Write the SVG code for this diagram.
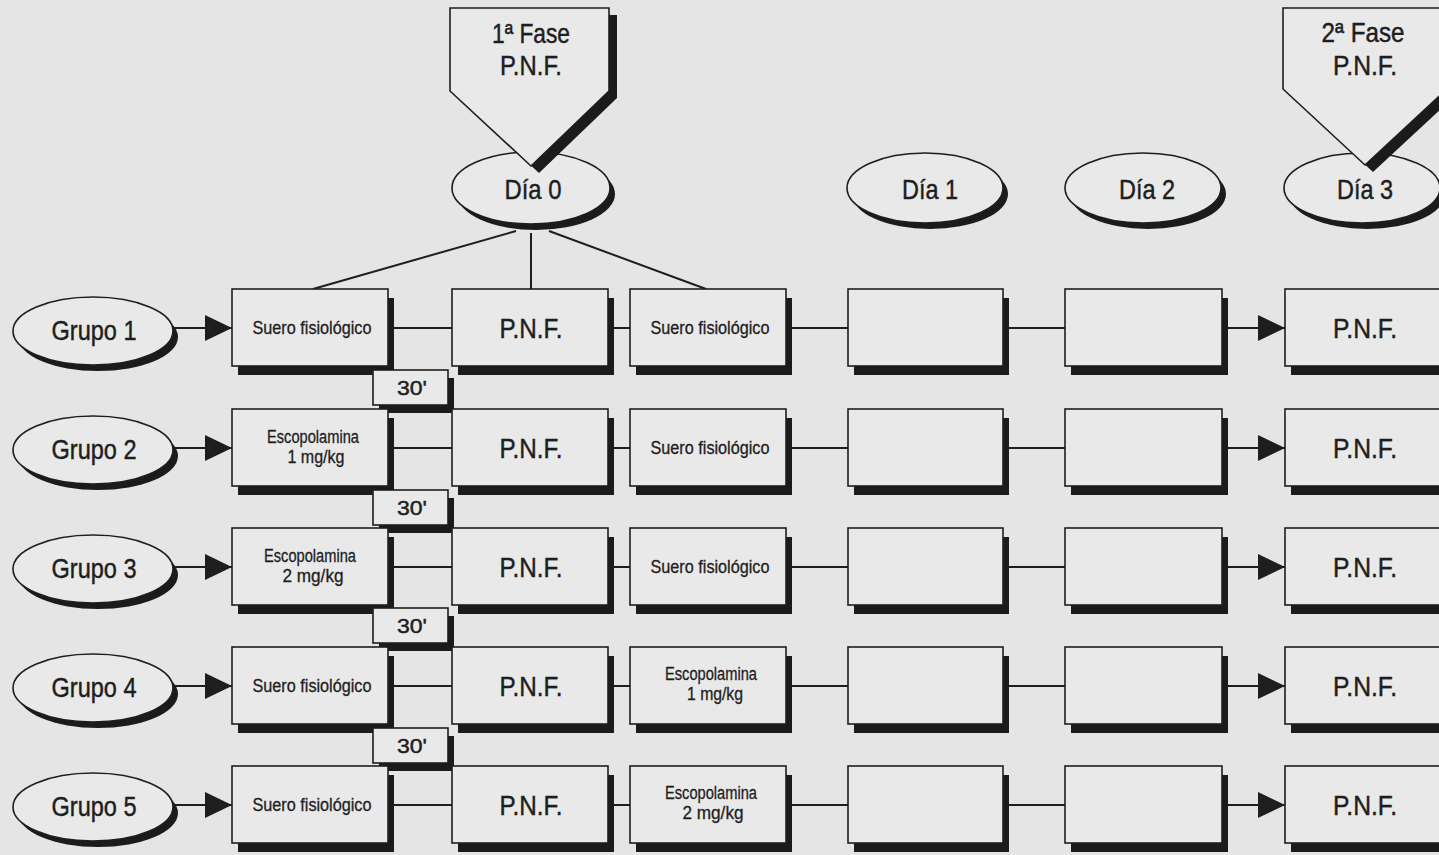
<svg xmlns="http://www.w3.org/2000/svg" width="1439" height="855" viewBox="0 0 1439 855">
  <style>
    .bx { fill: #e9e9e9; stroke: #1e1e1e; stroke-width: 1.6; }
    .sh { fill: #1b1b1b; stroke: none; }
    .ln { stroke: #1e1e1e; stroke-width: 2; fill: none; }
    text { font-family: "Liberation Sans Narrow", "Liberation Sans", Arial, sans-serif; fill: #1e1e1e; stroke: #1e1e1e; stroke-width: 0.45; text-anchor: middle; }
    .big { font-size: 28px; }
    .mid { font-size: 21px; }
    .sm { font-size: 18px; stroke-width: 0.3; }
  </style>
  <defs>
    <marker id="arr" markerUnits="userSpaceOnUse" markerWidth="27" markerHeight="26" refX="27" refY="13" orient="auto">
      <path d="M0,0 L27,13 L0,26 Z" fill="#1e1e1e"/>
    </marker>
  </defs>

  <!-- paper -->
  <rect x="0" y="0" width="1439" height="855" fill="#e5e5e5"/>

  <!-- connectors -->
  <g id="connectors">
    <!-- Día 0 fan-out to the first three boxes of group 1 -->
    <line class="ln" x1="516" y1="231" x2="313" y2="289"/>
    <line class="ln" x1="531" y1="233" x2="531" y2="289"/>
    <line class="ln" x1="549" y1="231" x2="706" y2="289"/>

    <!-- row 1 -->
    <line class="ln" x1="173" y1="328" x2="232" y2="328" marker-end="url(#arr)"/>
    <line class="ln" x1="394" y1="328" x2="452" y2="328"/>
    <line class="ln" x1="614" y1="328" x2="630" y2="328"/>
    <line class="ln" x1="792" y1="328" x2="848" y2="328"/>
    <line class="ln" x1="1009" y1="328" x2="1065" y2="328"/>
    <line class="ln" x1="1228" y1="328" x2="1285" y2="328" marker-end="url(#arr)"/>
    <!-- row 2 -->
    <line class="ln" x1="173" y1="448" x2="232" y2="448" marker-end="url(#arr)"/>
    <line class="ln" x1="394" y1="448" x2="452" y2="448"/>
    <line class="ln" x1="614" y1="448" x2="630" y2="448"/>
    <line class="ln" x1="792" y1="448" x2="848" y2="448"/>
    <line class="ln" x1="1009" y1="448" x2="1065" y2="448"/>
    <line class="ln" x1="1228" y1="448" x2="1285" y2="448" marker-end="url(#arr)"/>
    <!-- row 3 -->
    <line class="ln" x1="173" y1="567" x2="232" y2="567" marker-end="url(#arr)"/>
    <line class="ln" x1="394" y1="567" x2="452" y2="567"/>
    <line class="ln" x1="614" y1="567" x2="630" y2="567"/>
    <line class="ln" x1="792" y1="567" x2="848" y2="567"/>
    <line class="ln" x1="1009" y1="567" x2="1065" y2="567"/>
    <line class="ln" x1="1228" y1="567" x2="1285" y2="567" marker-end="url(#arr)"/>
    <!-- row 4 -->
    <line class="ln" x1="173" y1="686" x2="232" y2="686" marker-end="url(#arr)"/>
    <line class="ln" x1="394" y1="686" x2="452" y2="686"/>
    <line class="ln" x1="614" y1="686" x2="630" y2="686"/>
    <line class="ln" x1="792" y1="686" x2="848" y2="686"/>
    <line class="ln" x1="1009" y1="686" x2="1065" y2="686"/>
    <line class="ln" x1="1228" y1="686" x2="1285" y2="686" marker-end="url(#arr)"/>
    <!-- row 5 -->
    <line class="ln" x1="173" y1="805" x2="232" y2="805" marker-end="url(#arr)"/>
    <line class="ln" x1="394" y1="805" x2="452" y2="805"/>
    <line class="ln" x1="614" y1="805" x2="630" y2="805"/>
    <line class="ln" x1="792" y1="805" x2="848" y2="805"/>
    <line class="ln" x1="1009" y1="805" x2="1065" y2="805"/>
    <line class="ln" x1="1228" y1="805" x2="1285" y2="805" marker-end="url(#arr)"/>
  </g>

  <!-- day ellipses -->
  <g id="dia0">
    <ellipse class="sh" cx="536" cy="194" rx="79" ry="36"/>
    <ellipse class="bx" cx="531" cy="188" rx="79" ry="36"/>
    <text class="big" x="533" y="199" textLength="57" lengthAdjust="spacingAndGlyphs">Día 0</text>
  </g>
  <g id="dia1">
    <ellipse class="sh" cx="930" cy="194" rx="78" ry="35"/>
    <ellipse class="bx" cx="925" cy="188" rx="78" ry="35"/>
    <text class="big" x="930" y="199" textLength="56" lengthAdjust="spacingAndGlyphs">Día 1</text>
  </g>
  <g id="dia2">
    <ellipse class="sh" cx="1148" cy="194" rx="78" ry="35"/>
    <ellipse class="bx" cx="1143" cy="188" rx="78" ry="35"/>
    <text class="big" x="1147" y="199" textLength="56" lengthAdjust="spacingAndGlyphs">Día 2</text>
  </g>
  <g id="dia3">
    <ellipse class="sh" cx="1367" cy="194" rx="78" ry="35"/>
    <ellipse class="bx" cx="1362" cy="188" rx="78" ry="35"/>
    <text class="big" x="1365" y="199" textLength="56" lengthAdjust="spacingAndGlyphs">Día 3</text>
  </g>

  <!-- phase markers -->
  <g id="fase1">
    <polygon class="sh" points="458,15 617,15 617,98 539,173 458,98"/>
    <polygon class="bx" points="450,8 609,8 609,91 531,166 450,91"/>
    <text class="big" x="531" y="43" textLength="78" lengthAdjust="spacingAndGlyphs">1ª Fase</text>
    <text class="big" x="531" y="75" textLength="62" lengthAdjust="spacingAndGlyphs">P.N.F.</text>
  </g>
  <g id="fase2">
    <polygon class="sh" points="1291,15 1455,15 1455,96 1373,172 1291,96"/>
    <polygon class="bx" points="1283,8 1447,8 1447,89 1365,165 1283,89"/>
    <text class="big" x="1363" y="42" textLength="83" lengthAdjust="spacingAndGlyphs">2ª Fase</text>
    <text class="big" x="1365" y="75" textLength="64" lengthAdjust="spacingAndGlyphs">P.N.F.</text>
  </g>

  <!-- group 1 -->
  <g id="grupo1">
    <ellipse class="sh" cx="98" cy="337" rx="80" ry="34"/>
    <ellipse class="bx" cx="93" cy="331" rx="80" ry="34"/>
    <text class="big" x="94" y="340" textLength="85" lengthAdjust="spacingAndGlyphs">Grupo 1</text>
  </g>
  <g id="g1-pre">
    <rect class="sh" x="238" y="298" width="156" height="77"/>
    <rect class="bx" x="232" y="289" width="156" height="77"/>
    <text class="sm" x="312" y="334" textLength="119" lengthAdjust="spacingAndGlyphs">Suero fisiológico</text>
  </g>
  <g id="g1-pnf">
    <rect class="sh" x="458" y="298" width="156" height="77"/>
    <rect class="bx" x="452" y="289" width="156" height="77"/>
    <text class="big" x="531" y="338" textLength="63" lengthAdjust="spacingAndGlyphs">P.N.F.</text>
  </g>
  <g id="g1-post">
    <rect class="sh" x="636" y="298" width="156" height="77"/>
    <rect class="bx" x="630" y="289" width="156" height="77"/>
    <text class="sm" x="710" y="334" textLength="119" lengthAdjust="spacingAndGlyphs">Suero fisiológico</text>
  </g>
  <g id="g1-d1">
    <rect class="sh" x="854" y="298" width="155" height="77"/>
    <rect class="bx" x="848" y="289" width="155" height="77"/>
  </g>
  <g id="g1-d2">
    <rect class="sh" x="1071" y="298" width="157" height="77"/>
    <rect class="bx" x="1065" y="289" width="157" height="77"/>
  </g>
  <g id="g1-d3">
    <rect class="sh" x="1291" y="298" width="156" height="77"/>
    <rect class="bx" x="1285" y="289" width="156" height="77"/>
    <text class="big" x="1365" y="338" textLength="64" lengthAdjust="spacingAndGlyphs">P.N.F.</text>
  </g>
  <g id="wait1">
    <rect class="sh" x="379" y="378" width="75" height="35"/>
    <rect class="bx" x="373" y="370" width="75" height="35"/>
    <text class="mid" x="412" y="395" textLength="30" lengthAdjust="spacingAndGlyphs">30'</text>
  </g>

  <!-- group 2 -->
  <g id="grupo2">
    <ellipse class="sh" cx="98" cy="456" rx="80" ry="34"/>
    <ellipse class="bx" cx="93" cy="450" rx="80" ry="34"/>
    <text class="big" x="94" y="459" textLength="85" lengthAdjust="spacingAndGlyphs">Grupo 2</text>
  </g>
  <g id="g2-pre">
    <rect class="sh" x="238" y="418" width="156" height="77"/>
    <rect class="bx" x="232" y="409" width="156" height="77"/>
    <text class="sm" x="313" y="443" textLength="92" lengthAdjust="spacingAndGlyphs">Escopolamina</text>
    <text class="sm" x="316" y="463" textLength="57" lengthAdjust="spacingAndGlyphs">1 mg/kg</text>
  </g>
  <g id="g2-pnf">
    <rect class="sh" x="458" y="418" width="156" height="77"/>
    <rect class="bx" x="452" y="409" width="156" height="77"/>
    <text class="big" x="531" y="458" textLength="63" lengthAdjust="spacingAndGlyphs">P.N.F.</text>
  </g>
  <g id="g2-post">
    <rect class="sh" x="636" y="418" width="156" height="77"/>
    <rect class="bx" x="630" y="409" width="156" height="77"/>
    <text class="sm" x="710" y="454" textLength="119" lengthAdjust="spacingAndGlyphs">Suero fisiológico</text>
  </g>
  <g id="g2-d1">
    <rect class="sh" x="854" y="418" width="155" height="77"/>
    <rect class="bx" x="848" y="409" width="155" height="77"/>
  </g>
  <g id="g2-d2">
    <rect class="sh" x="1071" y="418" width="157" height="77"/>
    <rect class="bx" x="1065" y="409" width="157" height="77"/>
  </g>
  <g id="g2-d3">
    <rect class="sh" x="1291" y="418" width="156" height="77"/>
    <rect class="bx" x="1285" y="409" width="156" height="77"/>
    <text class="big" x="1365" y="458" textLength="64" lengthAdjust="spacingAndGlyphs">P.N.F.</text>
  </g>
  <g id="wait2">
    <rect class="sh" x="379" y="498" width="75" height="35"/>
    <rect class="bx" x="373" y="490" width="75" height="35"/>
    <text class="mid" x="412" y="515" textLength="30" lengthAdjust="spacingAndGlyphs">30'</text>
  </g>

  <!-- group 3 -->
  <g id="grupo3">
    <ellipse class="sh" cx="98" cy="575" rx="80" ry="34"/>
    <ellipse class="bx" cx="93" cy="569" rx="80" ry="34"/>
    <text class="big" x="94" y="578" textLength="85" lengthAdjust="spacingAndGlyphs">Grupo 3</text>
  </g>
  <g id="g3-pre">
    <rect class="sh" x="238" y="537" width="156" height="77"/>
    <rect class="bx" x="232" y="528" width="156" height="77"/>
    <text class="sm" x="310" y="562" textLength="92" lengthAdjust="spacingAndGlyphs">Escopolamina</text>
    <text class="sm" x="313" y="582" textLength="61" lengthAdjust="spacingAndGlyphs">2 mg/kg</text>
  </g>
  <g id="g3-pnf">
    <rect class="sh" x="458" y="537" width="156" height="77"/>
    <rect class="bx" x="452" y="528" width="156" height="77"/>
    <text class="big" x="531" y="577" textLength="63" lengthAdjust="spacingAndGlyphs">P.N.F.</text>
  </g>
  <g id="g3-post">
    <rect class="sh" x="636" y="537" width="156" height="77"/>
    <rect class="bx" x="630" y="528" width="156" height="77"/>
    <text class="sm" x="710" y="573" textLength="119" lengthAdjust="spacingAndGlyphs">Suero fisiológico</text>
  </g>
  <g id="g3-d1">
    <rect class="sh" x="854" y="537" width="155" height="77"/>
    <rect class="bx" x="848" y="528" width="155" height="77"/>
  </g>
  <g id="g3-d2">
    <rect class="sh" x="1071" y="537" width="157" height="77"/>
    <rect class="bx" x="1065" y="528" width="157" height="77"/>
  </g>
  <g id="g3-d3">
    <rect class="sh" x="1291" y="537" width="156" height="77"/>
    <rect class="bx" x="1285" y="528" width="156" height="77"/>
    <text class="big" x="1365" y="577" textLength="64" lengthAdjust="spacingAndGlyphs">P.N.F.</text>
  </g>
  <g id="wait3">
    <rect class="sh" x="379" y="616" width="75" height="35"/>
    <rect class="bx" x="373" y="608" width="75" height="35"/>
    <text class="mid" x="412" y="633" textLength="30" lengthAdjust="spacingAndGlyphs">30'</text>
  </g>

  <!-- group 4 -->
  <g id="grupo4">
    <ellipse class="sh" cx="98" cy="694" rx="80" ry="34"/>
    <ellipse class="bx" cx="93" cy="688" rx="80" ry="34"/>
    <text class="big" x="94" y="697" textLength="85" lengthAdjust="spacingAndGlyphs">Grupo 4</text>
  </g>
  <g id="g4-pre">
    <rect class="sh" x="238" y="656" width="156" height="77"/>
    <rect class="bx" x="232" y="647" width="156" height="77"/>
    <text class="sm" x="312" y="692" textLength="119" lengthAdjust="spacingAndGlyphs">Suero fisiológico</text>
  </g>
  <g id="g4-pnf">
    <rect class="sh" x="458" y="656" width="156" height="77"/>
    <rect class="bx" x="452" y="647" width="156" height="77"/>
    <text class="big" x="531" y="696" textLength="63" lengthAdjust="spacingAndGlyphs">P.N.F.</text>
  </g>
  <g id="g4-post">
    <rect class="sh" x="636" y="656" width="156" height="77"/>
    <rect class="bx" x="630" y="647" width="156" height="77"/>
    <text class="sm" x="711" y="680" textLength="92" lengthAdjust="spacingAndGlyphs">Escopolamina</text>
    <text class="sm" x="715" y="700" textLength="56" lengthAdjust="spacingAndGlyphs">1 mg/kg</text>
  </g>
  <g id="g4-d1">
    <rect class="sh" x="854" y="656" width="155" height="77"/>
    <rect class="bx" x="848" y="647" width="155" height="77"/>
  </g>
  <g id="g4-d2">
    <rect class="sh" x="1071" y="656" width="157" height="77"/>
    <rect class="bx" x="1065" y="647" width="157" height="77"/>
  </g>
  <g id="g4-d3">
    <rect class="sh" x="1291" y="656" width="156" height="77"/>
    <rect class="bx" x="1285" y="647" width="156" height="77"/>
    <text class="big" x="1365" y="696" textLength="64" lengthAdjust="spacingAndGlyphs">P.N.F.</text>
  </g>
  <g id="wait4">
    <rect class="sh" x="379" y="736" width="75" height="35"/>
    <rect class="bx" x="373" y="728" width="75" height="35"/>
    <text class="mid" x="412" y="753" textLength="30" lengthAdjust="spacingAndGlyphs">30'</text>
  </g>

  <!-- group 5 -->
  <g id="grupo5">
    <ellipse class="sh" cx="98" cy="813" rx="80" ry="34"/>
    <ellipse class="bx" cx="93" cy="807" rx="80" ry="34"/>
    <text class="big" x="94" y="816" textLength="85" lengthAdjust="spacingAndGlyphs">Grupo 5</text>
  </g>
  <g id="g5-pre">
    <rect class="sh" x="238" y="775" width="156" height="77"/>
    <rect class="bx" x="232" y="766" width="156" height="77"/>
    <text class="sm" x="312" y="811" textLength="119" lengthAdjust="spacingAndGlyphs">Suero fisiológico</text>
  </g>
  <g id="g5-pnf">
    <rect class="sh" x="458" y="775" width="156" height="77"/>
    <rect class="bx" x="452" y="766" width="156" height="77"/>
    <text class="big" x="531" y="815" textLength="63" lengthAdjust="spacingAndGlyphs">P.N.F.</text>
  </g>
  <g id="g5-post">
    <rect class="sh" x="636" y="775" width="156" height="77"/>
    <rect class="bx" x="630" y="766" width="156" height="77"/>
    <text class="sm" x="711" y="799" textLength="92" lengthAdjust="spacingAndGlyphs">Escopolamina</text>
    <text class="sm" x="713" y="819" textLength="61" lengthAdjust="spacingAndGlyphs">2 mg/kg</text>
  </g>
  <g id="g5-d1">
    <rect class="sh" x="854" y="775" width="155" height="77"/>
    <rect class="bx" x="848" y="766" width="155" height="77"/>
  </g>
  <g id="g5-d2">
    <rect class="sh" x="1071" y="775" width="157" height="77"/>
    <rect class="bx" x="1065" y="766" width="157" height="77"/>
  </g>
  <g id="g5-d3">
    <rect class="sh" x="1291" y="775" width="156" height="77"/>
    <rect class="bx" x="1285" y="766" width="156" height="77"/>
    <text class="big" x="1365" y="815" textLength="64" lengthAdjust="spacingAndGlyphs">P.N.F.</text>
  </g>
</svg>
